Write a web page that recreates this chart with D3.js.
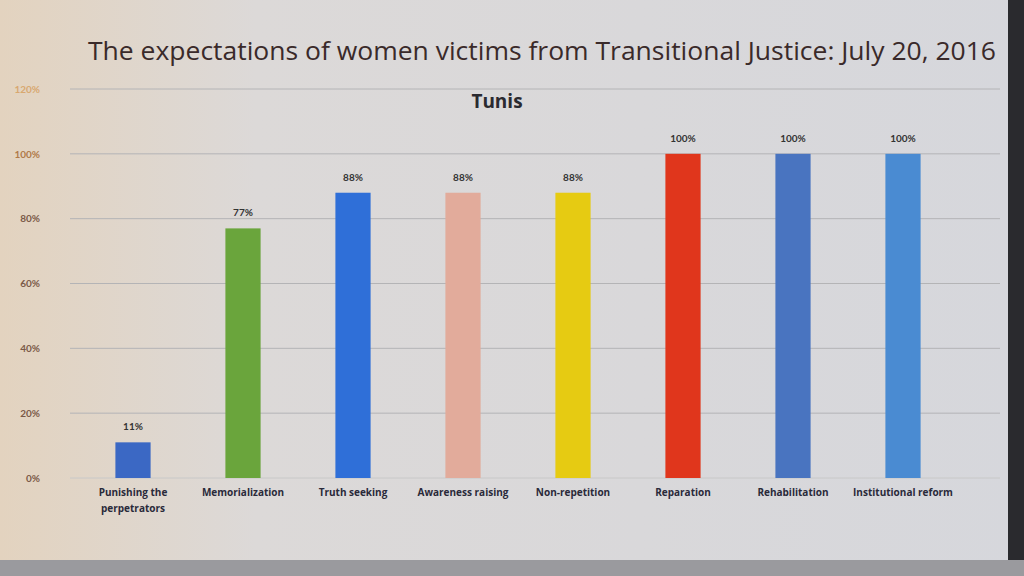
<!DOCTYPE html>
<html><head><meta charset="utf-8">
<script src="https://cdn.jsdelivr.net/npm/d3@7"></script>
<style>html,body{margin:0;padding:0;background:#d9d9db;}svg{display:block;}</style>
</head><body>
<svg id="c" width="1024" height="576"></svg>
<script>
const categories = ["Punishing the perpetrators","Memorialization","Truth seeking","Awareness raising","Non-repetition","Reparation","Rehabilitation","Institutional reform"];
const values = [11, 77, 88, 88, 88, 100, 100, 100];
const barColors = ["#3b68c4","#6aa53c","#2f6fd8","#e2ab9b","#e6cb12","#e0361c","#4974c0","#4a8bd2"];
const yTicks = [0, 20, 40, 60, 80, 100, 120];
const titleText = "The expectations of women victims from Transitional Justice: July 20, 2016";
const subtitleText = "Tunis";

const svg = d3.select("#c");
const W = 1024, H = 576;
const defs = svg.append("defs");
const g1 = defs.append("linearGradient").attr("id","bg").attr("x1","0").attr("x2","1").attr("y1","0").attr("y2","0");
g1.append("stop").attr("offset","0").attr("stop-color","#e3d3bf");
g1.append("stop").attr("offset","0.25").attr("stop-color","#dcd9d8");
g1.append("stop").attr("offset","1").attr("stop-color","#d6d7dc");
svg.append("rect").attr("width",W).attr("height",H).attr("fill","url(#bg)");
svg.append("rect").attr("x",1008).attr("y",0).attr("width",16).attr("height",H).attr("fill","#2a2a2e");
svg.append("rect").attr("x",0).attr("y",560).attr("width",W).attr("height",16).attr("fill","#9a9a9e");

const x = d3.scaleBand().domain(categories).range([78, 958]).paddingInner(0.68).paddingOuter(0.34);
const y = d3.scaleLinear().domain([0, 120]).range([478, 89]);

// gridlines
svg.append("g").selectAll("line").data(yTicks).join("line")
  .attr("x1", 70).attr("x2", 1000)
  .attr("y1", d => y(d)).attr("y2", d => y(d))
  .attr("stroke", d => d === 0 ? "#c8c8c8" : "#b4b4b6").attr("stroke-width", 1);

// y axis labels
const yAxis = d3.axisLeft(y).tickValues(yTicks).tickFormat(d => d + "%").tickSize(0);
const ya = svg.append("g").attr("transform","translate(40,0)").call(yAxis);
ya.select(".domain").remove();
ya.selectAll("text").attr("font-family","Lato, 'Open Sans', sans-serif").attr("font-weight","bold")
  .attr("font-size", 10).attr("fill", d => d >= 100 ? "#b07a48" : "#7a5a48").attr("x", 0);
ya.selectAll("text").filter(d => d === 120).attr("fill", "#d8a870");

// bars
svg.append("g").selectAll("rect").data(values).join("rect")
  .attr("x", (d,i) => x(categories[i]))
  .attr("y", d => y(d))
  .attr("width", x.bandwidth())
  .attr("height", d => y(0) - y(d))
  .attr("fill", (d,i) => barColors[i]);

// value labels
svg.append("g").selectAll("text").data(values).join("text")
  .attr("x", (d,i) => x(categories[i]) + x.bandwidth()/2)
  .attr("y", d => y(d) - 12)
  .attr("text-anchor","middle")
  .attr("font-family","Lato, 'Open Sans', sans-serif").attr("font-weight","bold")
  .attr("font-size", 10).attr("fill","#333")
  .text(d => d + "%");

// x axis
const xAxis = d3.axisBottom(x).tickSize(0);
const xa = svg.append("g").attr("transform",`translate(0,${y(0)})`).call(xAxis);
xa.select(".domain").remove();
xa.selectAll("text").attr("font-family","'Open Sans', Lato, sans-serif").attr("font-weight","bold")
  .attr("font-size", 10).attr("fill","#2a2a3a").attr("y", 11)
  .each(function(d){
    const t = d3.select(this);
    if (d === "Punishing the perpetrators") {
      t.text(null);
      t.append("tspan").attr("x",0).attr("dy","0.71em").text("Punishing the");
      t.append("tspan").attr("x",0).attr("dy","1.6em").text("perpetrators");
    }
  });

// title
svg.append("text").attr("x", 88).attr("y", 60)
  .attr("font-family","'Open Sans', Lato, sans-serif").attr("font-size", 25)
  .attr("fill","#3a2a2a").attr("textLength", 908).attr("lengthAdjust","spacingAndGlyphs")
  .text(titleText);
svg.append("text").attr("x", 497).attr("y", 108).attr("text-anchor","middle")
  .attr("font-family","'Open Sans', Lato, sans-serif").attr("font-weight","bold").attr("font-size", 19)
  .attr("fill","#2a2a30").text(subtitleText);
</script>
</body></html>
